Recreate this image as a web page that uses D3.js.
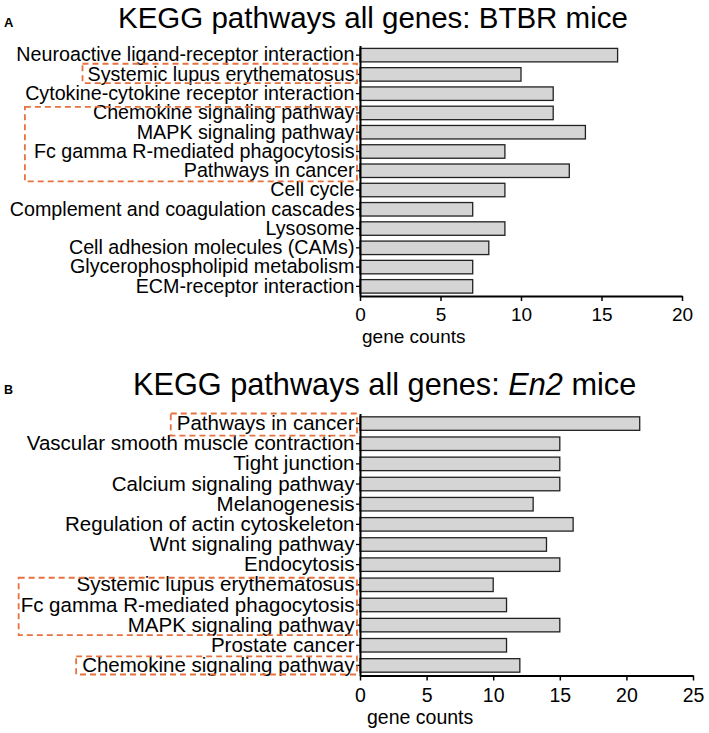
<!DOCTYPE html>
<html>
<head>
<meta charset="utf-8">
<script src="https://cdn.jsdelivr.net/npm/d3@7"></script>
<style>
  html, body { margin: 0; padding: 0; background: #fff; }
  svg text { font-family: "Liberation Sans", Arial, Helvetica, sans-serif; fill: #000; }
</style>
</head>
<body>
<svg id="chart" width="709" height="733"></svg>
<script>
// ---------------- DATA ----------------
const categoriesA = [
  "Neuroactive ligand-receptor interaction",
  "Systemic lupus erythematosus",
  "Cytokine-cytokine receptor interaction",
  "Chemokine signaling pathway",
  "MAPK signaling pathway",
  "Fc gamma R-mediated phagocytosis",
  "Pathways in cancer",
  "Cell cycle",
  "Complement and coagulation cascades",
  "Lysosome",
  "Cell adhesion molecules (CAMs)",
  "Glycerophospholipid metabolism",
  "ECM-receptor interaction"
];
const valuesA = [16, 10, 12, 12, 14, 9, 13, 9, 7, 9, 8, 7, 7];
const ticksA = [0, 5, 10, 15, 20];

const categoriesB = [
  "Pathways in cancer",
  "Vascular smooth muscle contraction",
  "Tight junction",
  "Calcium signaling pathway",
  "Melanogenesis",
  "Regulation of actin cytoskeleton",
  "Wnt signaling pathway",
  "Endocytosis",
  "Systemic lupus erythematosus",
  "Fc gamma R-mediated phagocytosis",
  "MAPK signaling pathway",
  "Prostate cancer",
  "Chemokine signaling pathway"
];
const valuesB = [21, 15, 15, 15, 13, 16, 14, 15, 10, 11, 15, 11, 12];
const ticksB = [0, 5, 10, 15, 20, 25];

// highlighted groups (first row, last row)
const highlightA = [
  ["Systemic lupus erythematosus", "Systemic lupus erythematosus"],
  ["Chemokine signaling pathway", "Pathways in cancer"]
];
const highlightB = [
  ["Pathways in cancer", "Pathways in cancer"],
  ["Systemic lupus erythematosus", "MAPK signaling pathway"],
  ["Chemokine signaling pathway", "Chemokine signaling pathway"]
];

const xTitle = "gene counts";

// ---------------- DRAW ----------------
const svg = d3.select("#chart");

function drawPanel(o) {
  const g = svg.append("g");

  // panel letter
  g.append("text").attr("x", o.letterX).attr("y", o.letterY)
    .attr("font-size", o.letterSize).attr("font-weight", "bold").text(o.letter);

  // title
  const t = g.append("text").attr("x", o.titleX).attr("y", o.titleY)
    .attr("font-size", o.titleSize);
  o.titleParts.forEach(p => {
    t.append("tspan").attr("font-style", p.italic ? "italic" : "normal").text(p.text);
  });

  const x = d3.scaleLinear().domain([0, o.max]).range(o.xRange);
  const y = d3.scaleBand().domain(o.categories).range(o.yRange).paddingInner(o.pad).paddingOuter(o.pad / 2);

  // bars
  g.append("g").selectAll("rect").data(o.values).join("rect")
    .attr("x", x(0))
    .attr("y", (d, i) => y(o.categories[i]))
    .attr("width", d => x(d) - x(0))
    .attr("height", y.bandwidth())
    .attr("fill", "#d5d5d5")
    .attr("stroke", "#222")
    .attr("stroke-width", 1.3);

  // y axis
  const ya = g.append("g").attr("transform", `translate(${x(0)},0)`)
    .call(d3.axisLeft(y).tickSize(4).tickSizeOuter(0).tickPadding(1.5));
  ya.select(".domain").attr("stroke", "#000").attr("stroke-width", 2);
  ya.selectAll(".tick line").attr("stroke", "#000").attr("stroke-width", 1.3);
  ya.selectAll(".tick text").attr("font-size", o.labelSize)
    .attr("font-family", '"Liberation Sans", Arial, sans-serif').attr("fill", "#000");

  // x axis
  const xa = g.append("g").attr("transform", `translate(0,${o.yRange[1]})`)
    .call(d3.axisBottom(x).tickValues(o.ticks).tickSize(5).tickSizeOuter(0).tickPadding(o.tickPad));
  xa.select(".domain").attr("stroke", "#000").attr("stroke-width", 2);
  xa.selectAll(".tick line").attr("stroke", "#000").attr("stroke-width", 1.5);
  xa.selectAll(".tick text").attr("font-size", o.tickSize)
    .attr("font-family", '"Liberation Sans", Arial, sans-serif').attr("fill", "#000");

  // x title
  g.append("text").attr("x", o.xTitleX).attr("y", o.xTitleY)
    .attr("font-size", o.tickSize).text(xTitle);

  // highlight boxes
  const textNodes = {};
  ya.selectAll(".tick").each(function (d) { textNodes[d] = d3.select(this).select("text").node(); });
  const step = y.step(), bw = y.bandwidth();
  o.highlights.forEach((h, k) => {
    const i0 = o.categories.indexOf(h[0]), i1 = o.categories.indexOf(h[1]);
    const rows = o.categories.slice(i0, i1 + 1);
    const left = d3.min(rows, r => {
      const bb = textNodes[r].getBBox();
      return x(0) + bb.x;
    }) - o.boxPad[k];
    const top = y(h[0]) - (step - bw) / 2 + o.boxDy[k][0];
    const bottom = y(h[1]) + bw + (step - bw) / 2 + o.boxDy[k][1];
    g.append("rect")
      .attr("x", left).attr("y", top)
      .attr("width", x(0) - 3 - left).attr("height", bottom - top)
      .attr("fill", "none").attr("stroke", "#e5723f")
      .attr("stroke-width", 1.8).attr("stroke-dasharray", "6,4");
  });
}

drawPanel({
  letter: "A", letterX: 4, letterY: 27, letterSize: 13,
  titleParts: [{ text: "KEGG pathways all genes: BTBR mice" }],
  titleX: 118, titleY: 28, titleSize: 29.5,
  categories: categoriesA, values: valuesA, ticks: ticksA, max: 20,
  xRange: [360, 682], yRange: [45.5, 296], pad: 0.3,
  labelSize: 19.7, tickSize: 19, tickPad: 7,
  xTitleX: 362, xTitleY: 343,
  highlights: highlightA, boxPad: [5, 9], boxDy: [[-1, -1], [3.5, 1]]
});

drawPanel({
  letter: "B", letterX: 4, letterY: 394, letterSize: 12.5,
  titleParts: [{ text: "KEGG pathways all genes: " }, { text: "En2", italic: true }, { text: " mice" }],
  titleX: 133, titleY: 395, titleSize: 30.7,
  categories: categoriesB, values: valuesB, ticks: ticksB, max: 25,
  xRange: [360, 693], yRange: [413.5, 675.5], pad: 0.33,
  labelSize: 20.5, tickSize: 19.5, tickPad: 7.2,
  xTitleX: 367, xTitleY: 723.5,
  highlights: highlightB, boxPad: [6, 2, 6], boxDy: [[0, 2], [3, 0], [1, -1]]
});
</script>
</body>
</html>
